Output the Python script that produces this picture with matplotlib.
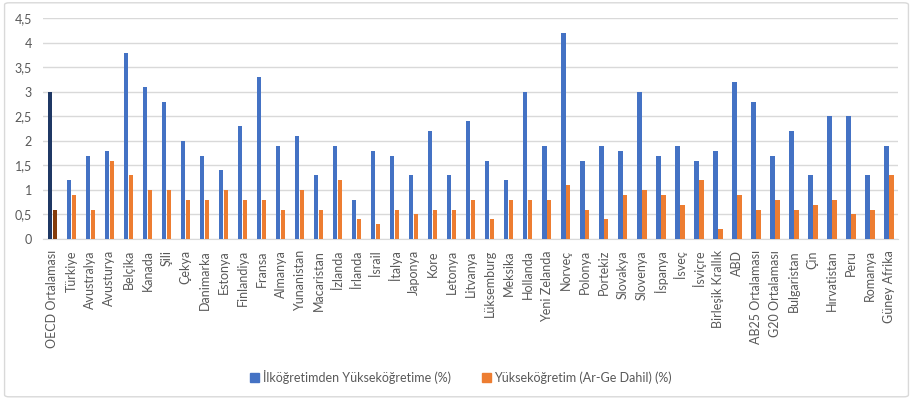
import numpy as np
import matplotlib.pyplot as plt
from matplotlib.patches import FancyBboxPatch, Patch
from matplotlib.ticker import FuncFormatter

plt.rcParams["font.family"] = ["Lato", "DejaVu Sans"]

# ============================================================
# Data
# ============================================================
countries = [
    "OECD Ortalaması", "Türkiye", "Avustralya", "Avusturya", "Belçika", "Kanada",
    "Şili", "Çekya", "Danimarka", "Estonya", "Finlandiya", "Fransa", "Almanya",
    "Yunanistan", "Macaristan", "İzlanda", "İrlanda", "İsrail", "İtalya", "Japonya",
    "Kore", "Letonya", "Litvanya", "Lüksemburg", "Meksika", "Hollanda",
    "Yeni Zelanda", "Norveç", "Polonya", "Portekiz", "Slovakya", "Slovenya",
    "İspanya", "İsveç", "İsviçre", "Birleşik Krallık", "ABD", "AB25 Ortalaması",
    "G20 Ortalaması", "Bulgaristan", "Çin", "Hırvatistan", "Peru", "Romanya",
    "Güney Afrika",
]
primary_to_tertiary = [
    3.0, 1.2, 1.7, 1.8, 3.8, 3.1, 2.8, 2.0, 1.7, 1.4, 2.3, 3.3, 1.9, 2.1, 1.3,
    1.9, 0.8, 1.8, 1.7, 1.3, 2.2, 1.3, 2.4, 1.6, 1.2, 3.0, 1.9, 4.2, 1.6, 1.9,
    1.8, 3.0, 1.7, 1.9, 1.6, 1.8, 3.2, 2.8, 1.7, 2.2, 1.3, 2.5, 2.5, 1.3, 1.9,
]
tertiary_rd = [
    0.6, 0.9, 0.6, 1.6, 1.3, 1.0, 1.0, 0.8, 0.8, 1.0, 0.8, 0.8, 0.6, 1.0, 0.6,
    1.2, 0.4, 0.3, 0.6, 0.5, 0.6, 0.6, 0.8, 0.4, 0.8, 0.8, 0.8, 1.1, 0.6, 0.4,
    0.9, 1.0, 0.9, 0.7, 1.2, 0.2, 0.9, 0.6, 0.8, 0.6, 0.7, 0.8, 0.5, 0.6, 1.3,
]
label_1 = "İlköğretimden Yükseköğretime (%)"
label_2 = "Yükseköğretim (Ar-Ge Dahil) (%)"

blue, orange = "#4472C4", "#ED7D31"
dark_blue, dark_orange = "#1F3864", "#843C0C"

# ============================================================
# Plot
# ============================================================
fig = plt.figure(figsize=(9.13, 4.0), dpi=100, facecolor="white")
ax = fig.add_axes([0.047, 0.4025, 0.937, 0.5515])

x = np.arange(len(countries))
w = 0.24
c1 = [dark_blue] + [blue] * (len(countries) - 1)
c2 = [dark_orange] + [orange] * (len(countries) - 1)
ax.bar(x - w / 2 - 0.01, primary_to_tertiary, width=w, color=c1, zorder=3)
ax.bar(x + w / 2 + 0.01, tertiary_rd, width=w, color=c2, zorder=3)

ax.set_xlim(-0.5, len(countries) - 0.5)
ax.set_ylim(0, 4.5)
ax.set_yticks(np.arange(0, 4.51, 0.5))
ax.yaxis.set_major_formatter(FuncFormatter(lambda v, p: f"{v:g}".replace(".", ",")))
ax.grid(axis="y", color="#D9D9D9", linewidth=1, zorder=0)
ax.set_xticks(x)
ax.set_xticklabels(countries, rotation=90, fontsize=9, color="#595959")
ax.tick_params(axis="y", labelsize=9, labelcolor="#595959", length=0, pad=8)
ax.tick_params(axis="x", length=0, pad=8)
for s in ["top", "right", "left"]:
    ax.spines[s].set_visible(False)
ax.spines["bottom"].set_color("#D9D9D9")

# legend: standard colours only
handles = [Patch(color=blue, label=label_1), Patch(color=orange, label=label_2)]
fig.legend(handles=handles, loc="center", bbox_to_anchor=(0.505, 0.058), ncol=2,
           frameon=False, fontsize=9, labelcolor="#595959", handlelength=0.7,
           handleheight=0.7, handletextpad=0.3, columnspacing=2.5)

# chart border
fig.patches.append(FancyBboxPatch((0.005, 0.008), 0.99, 0.985,
                                  boxstyle="round,pad=0,rounding_size=0.005",
                                  transform=fig.transFigure, fill=False,
                                  edgecolor="#D9D9D9", linewidth=1))

fig.savefig("out.png", dpi=100, facecolor="white")
